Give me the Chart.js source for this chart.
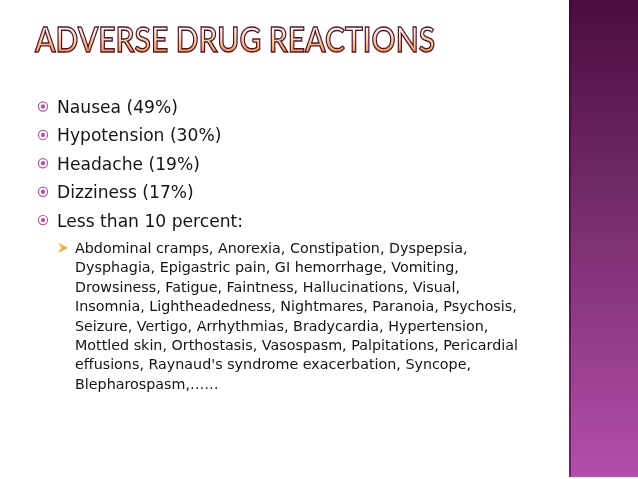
<!DOCTYPE html>
<html>
<head>
<meta charset="utf-8">
<script src="https://cdn.jsdelivr.net/npm/chart.js@4.4.1/dist/chart.umd.min.js"></script>
<style>
  html, body { margin: 0; padding: 0; background: #fff; }
  #wrap { width: 638px; height: 479px; position: relative; }
</style>
</head>
<body>
<div id="wrap"><canvas id="slide"></canvas></div>
<script>
// slide content
const slideTitle = 'ADVERSE DRUG REACTIONS';
const effects = ['Nausea', 'Hypotension', 'Headache', 'Dizziness'];
const percents = [49, 30, 19, 17];
const lessLabel = 'Less than 10 percent:';
const rareLines = [
    'Abdominal cramps, Anorexia, Constipation, Dyspepsia,',
    'Dysphagia, Epigastric pain, GI hemorrhage, Vomiting,',
    'Drowsiness, Fatigue, Faintness, Hallucinations, Visual,',
    'Insomnia, Lightheadedness, Nightmares, Paranoia, Psychosis,',
    'Seizure, Vertigo, Arrhythmias, Bradycardia, Hypertension,',
    'Mottled skin, Orthostasis, Vasospasm, Palpitations, Pericardial',
    "effusions, Raynaud's syndrome exacerbation, Syncope,",
    'Blepharospasm,\u2026\u2026'
];

const mainLines = effects.map((e, i) => `${e} (${percents[i]}%)`).concat([lessLabel]);

const bodyFont = '"DejaVu Sans", sans-serif';

// draws the slide text and decoration on the chart canvas
const slidePlugin = {
    id: 'slide',
    beforeDraw(chart) {
        const ctx = chart.ctx;
        ctx.save();
        ctx.fillStyle = '#ffffff';
        ctx.fillRect(0, 0, chart.width, chart.height);

        // purple side bar
        const g = ctx.createLinearGradient(0, 0, 0, 477);
        g.addColorStop(0, '#4b0c40');
        g.addColorStop(0.45, '#772d6c');
        g.addColorStop(1, '#b44dab');
        ctx.fillStyle = g;
        ctx.fillRect(569, 0, 69, 477);
        ctx.fillStyle = 'rgba(40,10,35,0.55)';
        ctx.fillRect(569, 0, 2, 477);

        // title
        ctx.font = '600 35px "Lato", sans-serif';
        const tw = ctx.measureText(slideTitle).width;
        ctx.translate(35, 52);
        ctx.scale(400 / tw, 1);
        const tg = ctx.createLinearGradient(0, -25, 0, 0);
        tg.addColorStop(0, '#fffaf6');
        tg.addColorStop(0.5, '#fbd3ae');
        tg.addColorStop(1, '#f09a4e');
        ctx.fillStyle = tg;
        ctx.fillText(slideTitle, 0, 0);
        ctx.lineWidth = 1.4;
        ctx.strokeStyle = '#4e1528';
        ctx.strokeText(slideTitle, 0, 0);
        ctx.restore();

        // main bullets
        ctx.save();
        ctx.font = '18px ' + bodyFont;
        const mScale = 186 / ctx.measureText(lessLabel).width;
        mainLines.forEach((txt, i) => {
            const y = 113 + i * 28.4;
            ctx.strokeStyle = '#b8559f';
            ctx.fillStyle = '#b8559f';
            ctx.lineWidth = 1.2;
            ctx.beginPath();
            ctx.arc(43, y - 6.5, 4.6, 0, Math.PI * 2);
            ctx.stroke();
            ctx.beginPath();
            ctx.arc(43, y - 6.5, 2.2, 0, Math.PI * 2);
            ctx.fill();
            ctx.save();
            ctx.translate(57, y);
            ctx.scale(mScale, 1);
            ctx.fillStyle = '#141414';
            ctx.fillText(txt, 0, 0);
            ctx.restore();
        });
        ctx.restore();

        // sub bullet arrow
        ctx.save();
        const ag = ctx.createLinearGradient(58, 242, 68, 252);
        ag.addColorStop(0, '#f9d27a');
        ag.addColorStop(1, '#e9952a');
        ctx.fillStyle = ag;
        ctx.beginPath();
        ctx.moveTo(58, 242);
        ctx.lineTo(68, 248);
        ctx.lineTo(58, 253);
        ctx.lineTo(61, 248);
        ctx.closePath();
        ctx.fill();

        ctx.font = '14px ' + bodyFont;
        const sScale = 443 / ctx.measureText(rareLines[5]).width;
        rareLines.forEach((txt, i) => {
            ctx.save();
            ctx.translate(75, 253 + i * 19.4);
            ctx.scale(sScale, 1);
            ctx.fillStyle = '#141414';
            ctx.fillText(txt, 0, 0);
            ctx.restore();
        });
        ctx.restore();
    }
};

const ctx = document.getElementById('slide').getContext('2d');

const slide = new Chart(ctx, {
    type: 'bar',
    data: {
        labels: effects,
        datasets: [{
            label: 'Incidence (%)',
            data: percents,
            backgroundColor: 'rgba(0,0,0,0)',
            borderWidth: 0
        }]
    },
    options: {
        responsive: true,
        maintainAspectRatio: false,
        animation: false,
        events: [],
        scales: {
            x: { display: false },
            y: { display: false, beginAtZero: true }
        },
        plugins: {
            legend: { display: false },
            tooltip: { enabled: false }
        }
    },
    plugins: [slidePlugin]
});
</script>
</body>
</html>
